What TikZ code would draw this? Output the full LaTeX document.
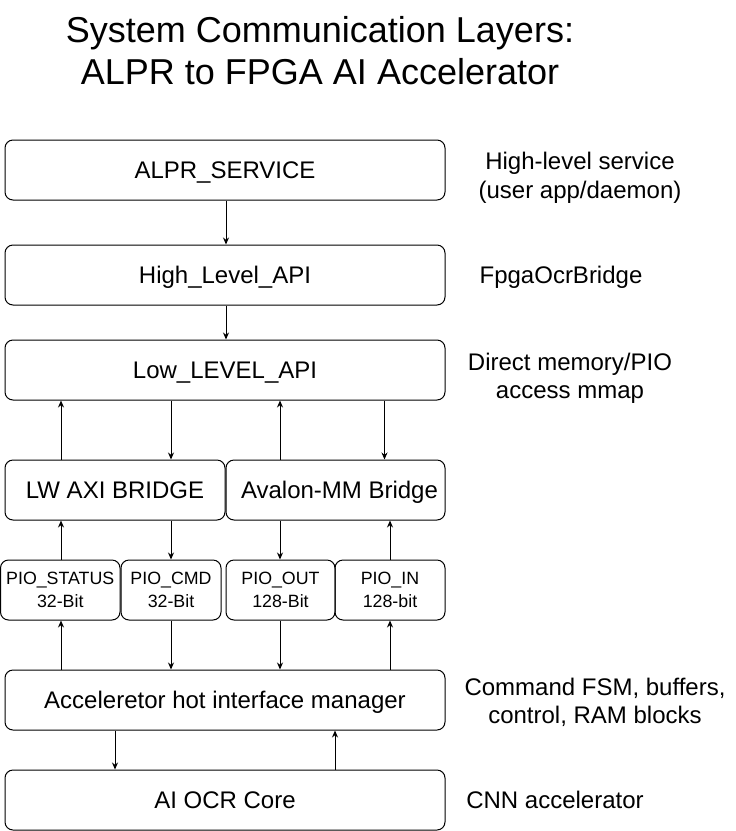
\documentclass[tikz,border=0pt]{standalone}
\usepackage{fontspec}
\setmainfont{Liberation Sans}
\usetikzlibrary{arrows.meta}
\begin{document}
\begin{tikzpicture}[x=1pt,y=-1pt,
  box/.style={draw=black, line width=1pt, rounded corners=8pt, inner sep=0pt, align=center, minimum height=60pt, text height=17.2pt, text depth=0pt, font=\fontsize{24}{28}\selectfont},
  widebox/.style={box, minimum width=440pt},
  piobox/.style={box, text height=35.8pt, text depth=0pt, font=\fontsize{17.8}{23.5}\selectfont},
  note/.style={align=center, inner sep=0pt, text height=17.2pt, text depth=0pt, font=\fontsize{24}{28.5}\selectfont},
  notetwo/.style={note, text height=45.7pt, text depth=0pt},
  arr/.style={-{Stealth[length=7pt,width=6pt]}, line width=1pt}]
\useasboundingbox (0,0) rectangle (736,831);

% title
\node[align=center, inner sep=0pt, text height=67.8pt, text depth=0pt, font=\fontsize{36}{42}\selectfont] (title) at (320,51) {System Communication Layers:\\ALPR to FPGA AI Accelerator};

% main boxes
\node[widebox] (svc) at (225,170) {ALPR\_SERVICE};
\node[widebox] (hl) at (225,275) {High\_Level\_API};
\node[widebox] (ll) at (225,370) {Low\_LEVEL\_API};
\node[box, minimum width=220pt] (lw) at (115,490) {LW AXI BRIDGE};
\node[box, minimum width=219pt] (av) at (335.5,490) {\hspace*{8pt}Avalon-MM Bridge};
\node[piobox, minimum width=119.5pt] (ps) at (60.25,590) {PIO\_STATUS\\32-Bit};
\node[piobox, minimum width=100pt] (pc) at (171,590) {PIO\_CMD\\32-Bit};
\node[piobox, minimum width=109pt] (po) at (280.5,590) {PIO\_OUT\\128-Bit};
\node[piobox, minimum width=110pt] (pi) at (390,590) {PIO\_IN\\128-bit};
\node[widebox] (mg) at (225,700) {Acceleretor hot interface manager};
\node[widebox] (ai) at (225,800) {AI OCR Core};

% side notes
\node[notetwo] (n1) at (580,175.5) {High-level service\\(user app/daemon)};
\node[note] (n2) at (561,275) {FpgaOcrBridge};
\node[notetwo] (n3) at (570,376) {Direct memory/PIO\\access mmap};
\node[notetwo] (n4) at (595,701) {Command FSM, buffers,\\control, RAM blocks};
\node[note] (n5) at (555,800) {CNN accelerator};

% x positions of vertical connectors
\coordinate (xa) at (61,0);
\coordinate (xb) at (171,0);
\coordinate (xc) at (280,0);
\coordinate (xd) at (384.5,0);
\coordinate (xe) at (390,0);
\coordinate (xf) at (115,0);
\coordinate (xg) at (335,0);
\coordinate (xm) at (226,0);

% connectors
\draw[arr] (svc.south -| xm) -- (hl.north -| xm);
\draw[arr] (hl.south -| xm) -- (ll.north -| xm);

\draw[arr] (lw.north -| xa) -- (ll.south -| xa);
\draw[arr] (ll.south -| xb) -- (lw.north -| xb);
\draw[arr] (av.north -| xc) -- (ll.south -| xc);
\draw[arr] (ll.south -| xd) -- (av.north -| xd);

\draw[arr] (ps.north -| xa) -- (lw.south -| xa);
\draw[arr] (lw.south -| xb) -- (pc.north -| xb);
\draw[arr] (av.south -| xc) -- (po.north -| xc);
\draw[arr] (pi.north -| xe) -- (av.south -| xe);

\draw[arr] (mg.north -| xa) -- (ps.south -| xa);
\draw[arr] (pc.south -| xb) -- (mg.north -| xb);
\draw[arr] (po.south -| xc) -- (mg.north -| xc);
\draw[arr] (mg.north -| xe) -- (pi.south -| xe);

\draw[arr] (mg.south -| xf) -- (ai.north -| xf);
\draw[arr] (ai.north -| xg) -- (mg.south -| xg);
\end{tikzpicture}
\end{document}
